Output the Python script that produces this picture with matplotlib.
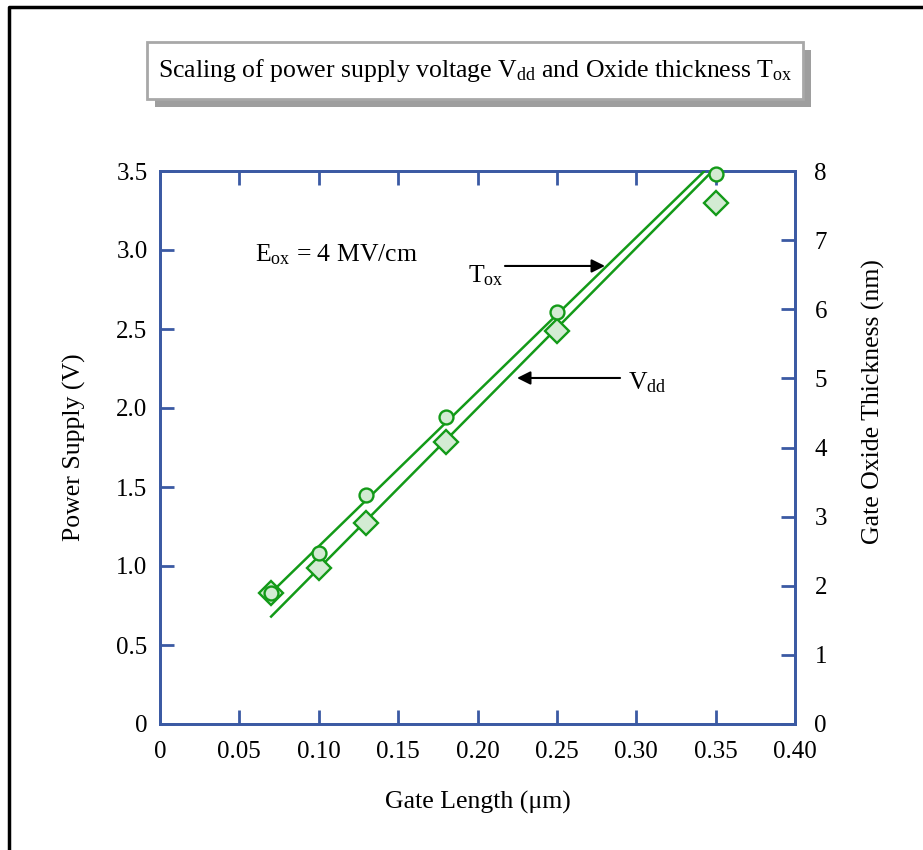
import matplotlib
matplotlib.use("Agg")
import matplotlib.pyplot as plt
from matplotlib.patches import Rectangle
from matplotlib.lines import Line2D

plt.rcParams['font.family'] = ['Liberation Serif', 'DejaVu Serif']
plt.rcParams['mathtext.fontset'] = 'custom'
plt.rcParams['mathtext.rm'] = 'Liberation Serif'
plt.rcParams['mathtext.it'] = 'Liberation Serif:italic'

# data
gate_length = [0.07, 0.10, 0.13, 0.18, 0.25, 0.35]
vdd = [0.83, 0.99, 1.27, 1.785, 2.49, 3.30]
tox = [1.90, 2.47, 3.31, 4.44, 5.96, 7.96]

# fitted lines (end points)
tox_fit_x = [0.07, 0.343]
tox_fit_y = [1.90, 8.0]
vdd_fit_x = [0.07, 0.348]
vdd_fit_y = [0.68, 3.5]

x_ticks = [0, 0.05, 0.10, 0.15, 0.20, 0.25, 0.30, 0.35, 0.40]
x_labels = ['0', '0.05', '0.10', '0.15', '0.20', '0.25', '0.30', '0.35', '0.40']
y_ticks = [0, 0.5, 1.0, 1.5, 2.0, 2.5, 3.0, 3.5]
y_labels = ['0', '0.5', '1.0', '1.5', '2.0', '2.5', '3.0', '3.5']
y2_ticks = [0, 1, 2, 3, 4, 5, 6, 7, 8]

axis_blue = '#3b5aa3'
green = '#139a18'
light_green = '#d3ebd3'
fs = 18.5

fig = plt.figure(figsize=(9.23, 8.5), dpi=100)
ax = fig.add_axes([160/923, 1-724/850, 635/923, 553/850])
ax2 = ax.twinx()

ax.set_xlim(0, 0.40)
ax.set_ylim(0, 3.5)
ax2.set_ylim(0, 8)

ax.plot(vdd_fit_x, vdd_fit_y, color=green, lw=1.8, zorder=3)
ax2.plot(tox_fit_x, tox_fit_y, color=green, lw=1.8, zorder=3)
ax.plot(gate_length, vdd, ls='none', marker='D', ms=12, mfc=light_green,
        mec=green, mew=1.7, zorder=4, clip_on=False)
ax2.plot(gate_length, tox, ls='none', marker='o', ms=10, mfc=light_green,
         mec=green, mew=1.7, zorder=4, clip_on=False)

for a in (ax, ax2):
    for s in a.spines.values():
        s.set_color(axis_blue)
        s.set_linewidth(2)

ax.set_xticks(x_ticks)
ax.set_xticklabels(x_labels)
ax.set_yticks(y_ticks)
ax.set_yticklabels(y_labels)
ax2.set_yticks(y2_ticks)
ax.tick_params(axis='x', direction='in', top=True, length=10, width=2,
               color=axis_blue, labelsize=18, pad=12)
ax.tick_params(axis='y', direction='in', length=10, width=2,
               color=axis_blue, labelsize=18, pad=9)
ax2.tick_params(axis='y', direction='in', length=10, width=2,
                color=axis_blue, labelsize=18, pad=14)

ax.set_xlabel('Gate Length (\u03bcm)', fontsize=fs, labelpad=20)
ax.set_ylabel('Power Supply (V)', fontsize=fs, labelpad=22)
ax2.set_ylabel('Gate Oxide Thickness (nm)', fontsize=fs, labelpad=25)
ax2.yaxis.label.set_y((724 - 402) / 553)

ax.text(0.0598, 2.97, r'E$_{\mathrm{ox}}$ = 4 MV/cm', fontsize=fs,
        ha='left', va='center')
ax.text(0.2165, 2.84, r'T$_{\mathrm{ox}}$', fontsize=fs, ha='right', va='center')
ax.annotate('', xy=(0.2803, 2.899), xytext=(0.2173, 2.899),
            arrowprops=dict(arrowstyle='-|>', color='black', lw=1.5,
                            mutation_scale=20, shrinkA=0, shrinkB=0))
ax.text(0.2948, 2.16, r'V$_{\mathrm{dd}}$', fontsize=fs, ha='left', va='center')
ax.annotate('', xy=(0.2249, 2.19), xytext=(0.2898, 2.19),
            arrowprops=dict(arrowstyle='-|>', color='black', lw=1.5,
                            mutation_scale=20, shrinkA=0, shrinkB=0))

# title box with shadow
fig.patches.append(Rectangle((155/923, 1-107/850), 656/923, 57/850,
                             transform=fig.transFigure, facecolor='#9e9e9e',
                             edgecolor='none', zorder=1))
fig.patches.append(Rectangle((147/923, 1-99/850), 656/923, 57/850,
                             transform=fig.transFigure, facecolor='white',
                             edgecolor='#a8a8a8', lw=2, zorder=2))
fig.text(475/923, 1-70/850,
         r'Scaling of power supply voltage V$_{\mathrm{dd}}$ and Oxide thickness T$_{\mathrm{ox}}$',
         fontsize=fs, ha='center', va='center', zorder=3)

# outer frame (left and top edges)
fig.lines.append(Line2D([9/923, 9/923, 1.0], [0.0, 1-7/850, 1-7/850],
                        transform=fig.transFigure, color='black', lw=2.5))

fig.savefig('out.png', dpi=100)
